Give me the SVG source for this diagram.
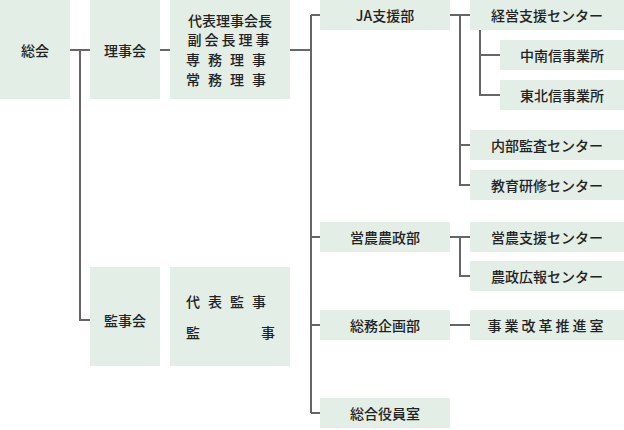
<svg xmlns="http://www.w3.org/2000/svg" width="624" height="430" viewBox="0 0 624 430">
<style>
rect{fill:#e3eee6}
text{font-family:"Noto Sans CJK JP","Noto Sans",sans-serif;font-size:14px;fill:#222;font-weight:500;text-anchor:middle;dominant-baseline:central}
.c path{fill:none;stroke:#666;stroke-width:2}
</style>
<g class="c">
<path d="M70 50H90M80 50V320H90M160 50H170M290 50H311M311 15V413M311 15H320M311 237H320M311 325H320M311 413H320"/>
<path d="M450 15H470M460 15V185H470M460 145H470M480 30V95H500M480 55H500"/>
<path d="M450 237H470M460 237V276H470M450 325H470"/>
</g>
<g id="soukai"><rect x="0" y="0" width="70" height="99"/><text x="35" y="50">総会</text></g>
<g id="rijikai"><rect x="90" y="0" width="70" height="99"/><text x="125" y="50">理事会</text></g>
<g id="exec"><rect x="170" y="0" width="120" height="99"/>
<text x="230" y="20">代表理事会長</text>
<text x="230" y="39" letter-spacing="3">副会長理事</text>
<text x="230" y="59" letter-spacing="8">専務理事</text>
<text x="230" y="79" letter-spacing="8">常務理事</text></g>
<g id="kanjikai"><rect x="90" y="267" width="70" height="99"/><text x="125" y="320">監事会</text></g>
<g id="kanji"><rect x="170" y="267" width="120" height="99"/>
<text x="230" y="301" letter-spacing="8">代表監事</text>
<text x="193" y="332">監</text><text x="268" y="332">事</text></g>
<g id="ja"><rect x="320" y="0" width="130" height="30"/><text x="385" y="15">JA支援部</text></g>
<g id="keiei"><rect x="470" y="0" width="154" height="30"/><text x="547" y="15">経営支援センター</text></g>
<g id="chunan"><rect x="500" y="40" width="124" height="30"/><text x="562" y="55">中南信事業所</text></g>
<g id="tohoku"><rect x="500" y="80" width="124" height="30"/><text x="562" y="95">東北信事業所</text></g>
<g id="naibu"><rect x="470" y="130" width="154" height="30"/><text x="547" y="145">内部監査センター</text></g>
<g id="kyoiku"><rect x="470" y="170" width="154" height="30"/><text x="547" y="185">教育研修センター</text></g>
<g id="einou"><rect x="320" y="222" width="130" height="30"/><text x="385" y="237">営農農政部</text></g>
<g id="einoushien"><rect x="470" y="222" width="154" height="30"/><text x="547" y="237">営農支援センター</text></g>
<g id="nousei"><rect x="470" y="261" width="154" height="30"/><text x="547" y="276">農政広報センター</text></g>
<g id="soumu"><rect x="320" y="310" width="130" height="30"/><text x="385" y="325">総務企画部</text></g>
<g id="jigyou"><rect x="470" y="310" width="154" height="30"/><text x="547" y="325" letter-spacing="3">事業改革推進室</text></g>
<g id="sougou"><rect x="320" y="398" width="130" height="30"/><text x="385" y="413">総合役員室</text></g>
</svg>
